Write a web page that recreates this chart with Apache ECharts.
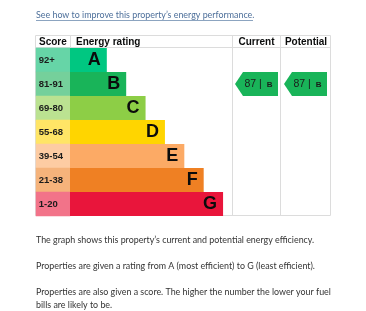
<!DOCTYPE html>
<html><head><meta charset="utf-8">
<script src="https://cdn.jsdelivr.net/npm/echarts@6/dist/echarts.min.js"></script>
<style>html,body{margin:0;padding:0;background:#fff}#c{width:366px;height:311px}</style>
</head><body><div id="c"></div>
<script>
// ---- data ----
const ratings = ['A', 'B', 'C', 'D', 'E', 'F', 'G'];
const scoreRanges = ['92+', '81-91', '69-80', '55-68', '39-54', '21-38', '1-20'];
const bandLowerBounds = [92, 81, 69, 55, 39, 21, 1];
const ratingBarLengths = [1.9, 2.9, 3.9, 4.9, 5.9, 6.9, 7.9];
const columns = ['Current', 'Potential'];
const currentScore = 87;
const potentialScore = 87;
const headers = ['Score', 'Energy rating', 'Current', 'Potential'];
const linkText = 'See how to improve this property\u2019s energy performance.';
const paragraphs = [
  ['The graph shows this property\u2019s current and potential energy efficiency.'],
  ['Properties are given a rating from A (most efficient) to G (least efficient).'],
  ['Properties are also given a score. The higher the number the lower your fuel', 'bills are likely to be.']
];

// ---- styles ----
const barColors = ['#00c781', '#19b459', '#8dce46', '#ffd500', '#fcaa65', '#ef8023', '#e9153b'];
const scoreColors = ['#66d5a7', '#75d09b', '#bbe291', '#ffe566', '#fdcca3', '#f5b37b', '#f27389'];
const lineColor = '#dcdcdc';
const tableFont = 'Liberation Sans';
const textFont = 'Lato';

function bandOf(score) {
  for (let i = 0; i < ratings.length; i++) if (score >= bandLowerBounds[i]) return ratings[i];
  return ratings[ratings.length - 1];
}

const chart = echarts.init(document.getElementById('c'), null, { renderer: 'canvas' });

const arrowPath = 'path://M0,12L8,0L43,0L43,24L8,24Z';
function markerSeries(colIdx, score) {
  const b = bandOf(score);
  return {
    type: 'scatter', xAxisIndex: 2, yAxisIndex: 2,
    symbol: arrowPath, symbolSize: [43, 24], silent: true,
    itemStyle: { color: barColors[ratings.indexOf(b)], opacity: 1 },
    data: [[columns[colIdx], b, score]],
    label: {
      show: true, position: 'inside', offset: [2, 0],
      formatter: function (p) { return '{n|' + p.value[2] + ' | }{b|' + p.value[1] + '}'; },
      rich: {
        n: { fontFamily: tableFont, fontSize: 10.5, color: '#1b1b1b' },
        b: { fontFamily: tableFont, fontSize: 8, fontWeight: 'bold', color: '#1b1b1b', padding: [1, 0, 0, 2] }
      }
    }
  };
}

const graphics = [];
// table borders
const L = (x1, y1, x2, y2) => graphics.push({ type: 'line', shape: { x1, y1, x2, y2 }, style: { stroke: lineColor, lineWidth: 1 }, z: 0 });
L(35.5, 35.5, 330.5, 35.5);
L(35.5, 215.5, 330.5, 215.5);
L(35.5, 35.5, 35.5, 215.5);
L(330.5, 35.5, 330.5, 215.5);
L(35.5, 47.5, 330.5, 47.5);
L(70.5, 35.5, 70.5, 47.5);
L(232.5, 35.5, 232.5, 215.5);
L(280.5, 35.5, 280.5, 215.5);
// headers
const hx = [{ x: 39, a: 'left' }, { x: 76, a: 'left' }, { x: 256.5, a: 'center' }, { x: 306, a: 'center' }];
headers.forEach((h, i) => graphics.push({
  type: 'text', x: hx[i].x, y: 42, z: 5,
  style: { text: h, font: 'bold 10px "' + tableFont + '"', fill: '#0b0c0c', align: hx[i].a, verticalAlign: 'middle' }
}));
// link
graphics.push({ type: 'text', x: 36, y: 15, style: { text: linkText, font: '8.9px "' + textFont + '"', fill: '#4d6f9a', verticalAlign: 'middle' } });
graphics.push({ type: 'line', shape: { x1: 36, y1: 20.5, x2: 253, y2: 20.5 }, style: { stroke: '#6f8db0', lineWidth: 0.8 } });
// paragraphs
const pY = [240.5, 266.5, 292.5];
paragraphs.forEach((lines, i) => lines.forEach((t, j) => graphics.push({
  type: 'text', x: 36, y: pY[i] + j * 12.8,
  style: { text: t, font: '8.9px "' + textFont + '"', fill: '#333', verticalAlign: 'middle' }
})));

chart.setOption({
  animation: false,
  grid: [
    { left: 36, top: 48, width: 34, height: 168 },
    { left: 70, top: 48, width: 155, height: 168 },
    { left: 232, top: 48, width: 98, height: 168 }
  ],
  xAxis: [
    { gridIndex: 0, type: 'category', data: ['Score'], show: false },
    { gridIndex: 1, type: 'value', min: 0, max: 8, show: false },
    { gridIndex: 2, type: 'category', data: columns, show: false }
  ],
  yAxis: [0, 1, 2].map(i => ({ gridIndex: i, type: 'category', data: ratings, inverse: true, show: false })),
  series: [
    {
      type: 'heatmap', xAxisIndex: 0, yAxisIndex: 0, silent: true,
      data: ratings.map((r, i) => ({ value: [0, i, bandLowerBounds[i]], itemStyle: { color: scoreColors[i] } })),
      label: {
        show: true, position: 'insideLeft', distance: 3,
        formatter: p => scoreRanges[p.dataIndex],
        fontFamily: tableFont, fontSize: 9.5, fontWeight: 'bold', color: '#1b1b1b'
      }
    },
    {
      type: 'bar', xAxisIndex: 1, yAxisIndex: 1, silent: true, barCategoryGap: 0,
      data: ratingBarLengths.map((v, i) => ({ value: v, itemStyle: { color: barColors[i] } })),
      label: {
        show: true, position: 'insideRight', distance: 6, formatter: '{b}',
        fontFamily: tableFont, fontSize: 18, fontWeight: 'bold', color: '#0b0c0c'
      }
    },
    markerSeries(0, currentScore),
    markerSeries(1, potentialScore)
  ],
  graphic: graphics
});
</script></body></html>
